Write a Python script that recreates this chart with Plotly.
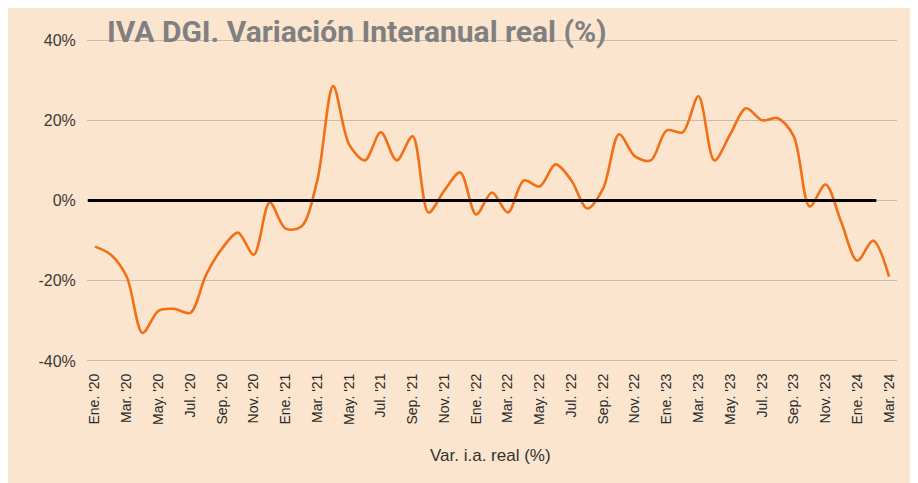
import plotly.graph_objects as go

months = ["Ene.", "Feb.", "Mar.", "Abr.", "May.", "Jun.", "Jul.", "Ago.", "Sep.", "Oct.", "Nov.", "Dic."]
years = ["'20", "'21", "'22", "'23", "'24"]
categories = [f"{m} {y}" for y in years for m in months][:51]

iva_real = [-11.5, -13.5, -19, -33, -27.5, -27, -28, -18.5, -12, -8, -13.5, -0.5,
            -7, -6.5, 5, 28.5, 14, 10, 17, 10, 16, -3, 2.5, 7,
            -3.5, 2, -3, 5, 3.5, 9, 5, -2, 3, 16.5, 11, 10,
            17.5, 17, 26, 10, 16.5, 23, 20, 20.5, 16, -1.5, 4, -5.5,
            -15, -10, -19]

tick_labels = categories[::2]
y_ticks = [-40, -20, 0, 20, 40]
y_tick_labels = ["-40%", "-20%", "0%", "20%", "40%"]

title_text = "IVA DGI. Variación Interanual real (%)"
x_title = "Var. i.a. real (%)"

beige = "#FBE5CE"

fig = go.Figure()
fig.add_trace(go.Scatter(
    x=categories, y=iva_real, mode="lines",
    line=dict(color="#F36F16", width=2.6, shape="spline", smoothing=0.9),
    showlegend=False,
))

fig.update_layout(
    width=910, height=475,
    margin=dict(l=79, r=21, t=30, b=120),
    paper_bgcolor=beige, plot_bgcolor=beige,
    xaxis=dict(
        type="category", categoryorder="array", categoryarray=categories,
        range=[-0.5, 50.5],
        tickmode="array", tickvals=tick_labels, ticktext=tick_labels,
        tickangle=-90, showgrid=False, zeroline=False, showline=False,
        tickfont=dict(family="Liberation Sans, Arial", size=14, color="#2a2a2a"),
        ticks="outside", ticklen=4, tickcolor="rgba(0,0,0,0)",
    ),
    yaxis=dict(
        range=[-40.5, 40.5], tickvals=y_ticks, ticktext=y_tick_labels,
        showgrid=True, gridcolor="#CDBBA8", gridwidth=1.2, zeroline=False,
        tickfont=dict(family="Liberation Sans, Arial", size=16, color="#3a3a3a"),
        ticks="outside", ticklen=7, tickcolor="rgba(0,0,0,0)",
    ),
    shapes=[
        dict(type="line", xref="x", yref="y", x0=-0.45, x1=49.2, y0=0, y1=0,
             line=dict(color="black", width=3), layer="above"),
    ],
    annotations=[
        dict(text=title_text, xref="paper", yref="paper", x=(105 - 87) / 810, y=1 + (38 - 31) / 325,
             xanchor="left", yanchor="middle", showarrow=False,
             font=dict(family="Roboto", size=30, color="#808080", weight="bold")),
        dict(text=x_title, xref="paper", yref="paper", x=(490 - 87) / 810, y=-(455 - 363) / 325,
             xanchor="center", yanchor="middle", showarrow=False,
             font=dict(family="Liberation Sans, Arial", size=17, color="#333333")),
    ],
)

fig.write_html("out.html")
